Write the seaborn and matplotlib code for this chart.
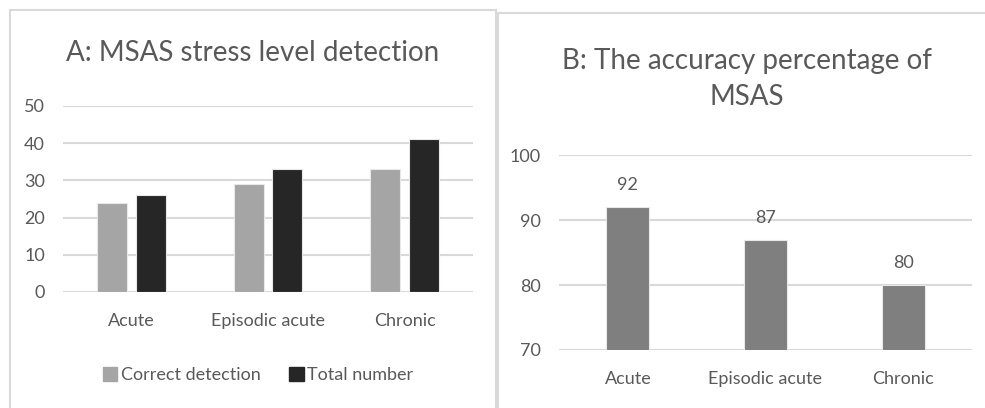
import pandas as pd
import matplotlib.pyplot as plt
import seaborn as sns
from matplotlib.patches import Rectangle, Patch

# data
categories = ["Acute", "Episodic acute", "Chronic"]
correct_detection = [24, 29, 33]
total_number = [26, 33, 41]
accuracy_pct = [92, 87, 80]

sns.set_theme(style="white")
plt.rcParams['font.family'] = ['Lato', 'DejaVu Sans']

text_col = "#595959"
grid_col = "#D9D9D9"

df_a = pd.DataFrame({
    "category": categories * 2,
    "value": correct_detection + total_number,
    "series": ["Correct detection"] * 3 + ["Total number"] * 3,
})
df_b = pd.DataFrame({"category": categories, "value": accuracy_pct})

fig = plt.figure(figsize=(9.85, 4.08), dpi=100)

# panel frames
fig.patches.append(Rectangle((10 / 985, -0.01), 486 / 985, 1 - 10 / 408 + 0.01,
                             transform=fig.transFigure, fill=False,
                             edgecolor=grid_col, lw=1.5))
fig.patches.append(Rectangle((498 / 985, -0.01), 0.6, 1 - 13 / 408 + 0.01,
                             transform=fig.transFigure, fill=False,
                             edgecolor=grid_col, lw=1.5))


def style_axis(ax, ticks):
    ax.set_yticks(ticks)
    ax.grid(axis="y", color=grid_col, lw=1.5)
    ax.set_axisbelow(True)
    for s in ax.spines.values():
        s.set_visible(False)
    ax.tick_params(axis="both", length=0, labelsize=13, colors=text_col)
    ax.tick_params(axis="x", pad=15)
    ax.tick_params(axis="y", pad=13)
    ax.set_xlabel("")
    ax.set_ylabel("")


# A: MSAS stress level detection
ax1 = fig.add_axes([63 / 985, 1 - 292 / 408, 410 / 985, 186 / 408])
sns.barplot(data=df_a, x="category", y="value", hue="series",
            palette=["#A5A5A5", "#262626"], width=0.57, gap=0.23,
            saturation=1, linewidth=0.8, edgecolor="#E8E8E8",
            ax=ax1, legend=False)
ax1.set_ylim(0, 50)
style_axis(ax1, [0, 10, 20, 30, 40, 50])
fig.text(253 / 985, 1 - 53 / 408, "A: MSAS stress level detection",
         ha="center", va="center", fontsize=20, color=text_col)

handles = [Patch(color="#A5A5A5", label="Correct detection"),
           Patch(color="#262626", label="Total number")]
fig.legend(handles=handles, loc="center", bbox_to_anchor=(258 / 985, 1 - 375 / 408),
           ncol=2, frameon=False, fontsize=13, labelcolor=text_col,
           handlelength=0.8, handleheight=0.8, handletextpad=0.2, columnspacing=1.6)

# B: The accuracy percentage of MSAS
ax2 = fig.add_axes([559 / 985, 1 - 350 / 408, 413 / 985, 195 / 408])
sns.barplot(data=df_b, x="category", y="value", color="#7F7F7F",
            width=0.31, saturation=1, linewidth=0.8, edgecolor="#E8E8E8", ax=ax2)
ax2.set_ylim(70, 100)
style_axis(ax2, [70, 80, 90, 100])
ax2.bar_label(ax2.containers[0], padding=10, fontsize=13, color=text_col)
fig.text(747 / 985, 1 - 79 / 408, "B: The accuracy percentage of\nMSAS",
         ha="center", va="center", fontsize=20, color=text_col, linespacing=1.5)

fig.savefig("out.png", dpi=100)
